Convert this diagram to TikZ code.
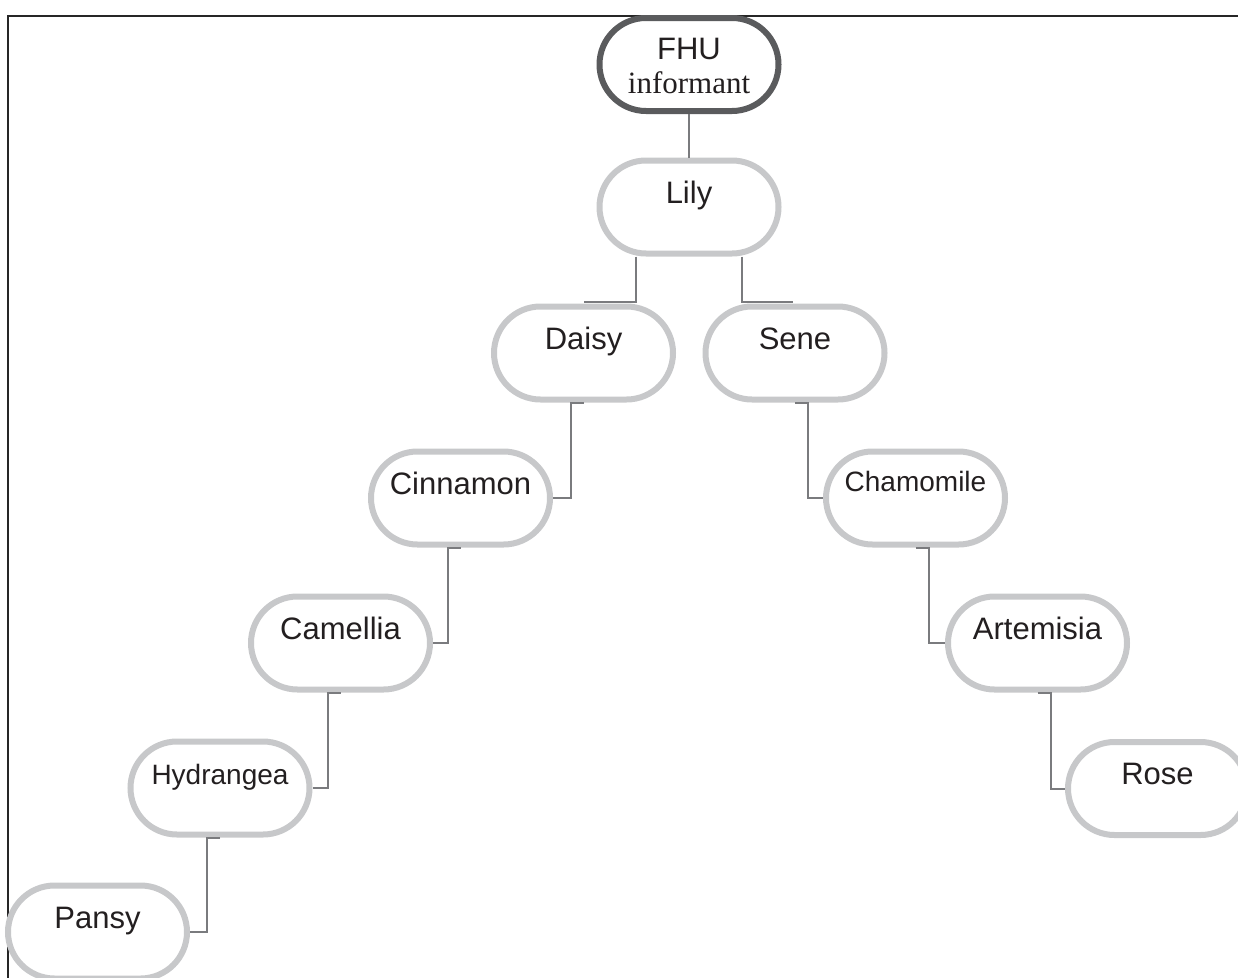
\documentclass[tikz,border=0pt]{standalone}
\usepackage{fontspec}
\setmainfont{Liberation Sans}
\newfontfamily\serifont{Liberation Serif}
\usetikzlibrary{calc,shapes.misc}
\definecolor{ringlight}{HTML}{C7C8CA}
\definecolor{ringdark}{HTML}{5A5B5D}
\definecolor{linkgray}{HTML}{7A7B7E}
\definecolor{txt}{HTML}{231F20}
\newcommand{\lift}[1]{\smash{\raisebox{4pt}{#1}}}
\begin{document}
\begin{tikzpicture}[x=1pt,y=-1pt,
  flower/.style={rounded rectangle, draw=ringlight, line width=6pt, fill=white,
    minimum width=179pt, minimum height=93pt, inner sep=0pt, text=txt,
    font=\fontsize{31}{34}\selectfont},
  flowersmall/.style={flower, font=\fontsize{28}{32}\selectfont},
  flowerdark/.style={flower, draw=ringdark},
  link/.style={draw=linkgray, line width=2pt},
  frame/.style={draw=black!85, line width=2.2pt}]
\useasboundingbox (0,0) rectangle (1238,977);
\clip (0,0) rectangle (1238,977);
\draw[frame] (8,990) -- (8,16) -- (1250,16);

\node[flowerdark] (fhu) at (689,64.5) {\smash{\raisebox{5.5pt}{\vtop{\hbox to 0pt{\hss FHU\hss}\hbox to 0pt{\hss\serifont informant\hss}}}}};
\node[flower] (lily) at (689,207) {\lift{Lily}};
\node[flower] (daisy) at (583.5,353) {\lift{Daisy}};
\node[flower] (sene) at (795,353) {\lift{Sene}};
\node[flower] (cinn) at (460.5,498) {\lift{Cinnamon}};
\node[flowersmall] (cham) at (915.5,498) {\smash{\raisebox{7pt}{Chamomile}}};
\node[flower] (came) at (340.5,643) {\lift{Camellia}};
\node[flower] (arte) at (1037.5,643) {\lift{Artemisia}};
\node[flowersmall] (hydr) at (220,788) {\lift{Hydrangea}};
\node[flower] (rose) at (1157.5,788.5) {\lift{Rose}};
\node[flower] (pansy) at (97.5,932) {\lift{Pansy}};

\draw[link] (fhu.south) -- (lily.north);
\draw[link] ($(lily.south)+(-53,0)$) |- ($(daisy.north)+(0,-2)$);
\draw[link] ($(lily.south)+(53,0)$) |- ($(sene.north)+(-2,-2)$);
\draw[link] (daisy.south) -- ++(-13,0) |- (cinn.east);
\draw[link] (cinn.south) -- ++(-13,0) |- (came.east);
\draw[link] (came.south) -- ++(-13,0) |- (hydr.east);
\draw[link] (hydr.south) -- ++(-13,0) |- (pansy.east);
\draw[link] (sene.south) -- ++(13,0) |- (cham.west);
\draw[link] (cham.south) -- ++(13,0) |- (arte.west);
\draw[link] (arte.south) -- ++(13,0) |- (rose.west);
\end{tikzpicture}
\end{document}
